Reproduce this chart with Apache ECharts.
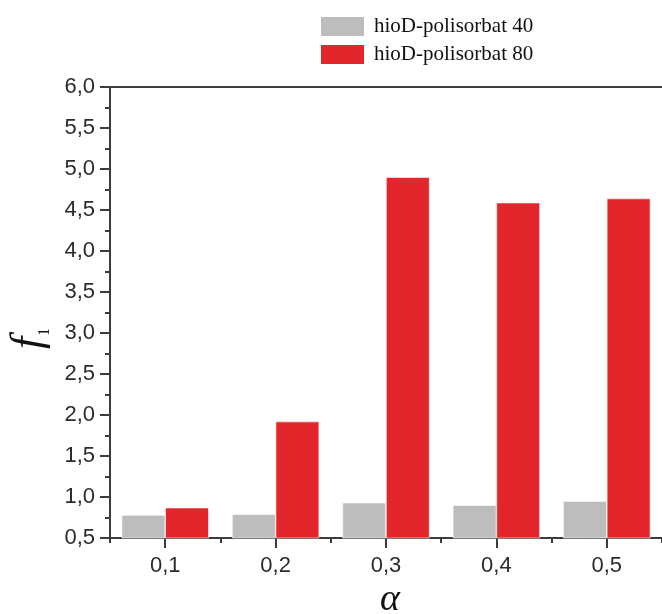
<!DOCTYPE html>
<html>
<head>
<meta charset="utf-8">
<script src="https://cdn.jsdelivr.net/npm/echarts@6/dist/echarts.min.js"></script>
<style>
  html, body { margin: 0; padding: 0; background: #fff; }
  #chart { width: 662px; height: 614px; }
</style>
</head>
<body>
<div id="chart"></div>
<script>
// α values on the horizontal axis
const categories = ['0,1', '0,2', '0,3', '0,4', '0,5'];
// f1 for each formulation
const seriesNames = ['hioD-polisorbat 40', 'hioD-polisorbat 80'];
const polisorbat40 = [0.78, 0.79, 0.93, 0.90, 0.95];
const polisorbat80 = [0.87, 1.92, 4.90, 4.59, 4.64];
// vertical axis range and step
const yMin = 0.5;
const yMax = 6.0;
const yStep = 0.5;

const axisColor = '#3c3c3c';
const labelColor = '#2b2b2b';
const labelFont = '"Liberation Sans", Arial, sans-serif';
const serifFont = '"Liberation Serif", "Times New Roman", serif';

const chart = echarts.init(document.getElementById('chart'), null, { renderer: 'canvas' });

chart.setOption({
  animation: false,
  backgroundColor: '#fff',
  grid: { left: 110, top: 87, width: 556, height: 451, containLabel: false },
  legend: {
    orient: 'vertical',
    left: 314,
    top: 10,
    itemWidth: 45,
    itemHeight: 21,
    itemGap: 5,
    icon: 'rect',
    data: seriesNames,
    textStyle: {
      fontFamily: serifFont,
      fontSize: 21,
      color: '#111',
      padding: [0, 0, 0, 4]
    }
  },
  xAxis: [
    {
      type: 'category',
      data: categories,
      position: 'bottom',
      axisLine: { show: true, lineStyle: { color: axisColor, width: 2 } },
      axisTick: { show: true, alignWithLabel: true, length: 10, lineStyle: { color: axisColor, width: 2 } },
      axisLabel: { margin: 17, fontFamily: labelFont, fontSize: 22, color: labelColor },
      splitLine: { show: false }
    },
    {
      // short ticks on the category boundaries
      type: 'category',
      data: categories,
      position: 'bottom',
      axisLine: { show: false },
      axisTick: { show: true, length: 5, lineStyle: { color: axisColor, width: 2 } },
      axisLabel: { show: false },
      splitLine: { show: false }
    },
    {
      // top frame line
      type: 'category',
      data: categories,
      position: 'top',
      axisLine: { show: true, lineStyle: { color: axisColor, width: 2 } },
      axisTick: { show: false },
      axisLabel: { show: false },
      splitLine: { show: false }
    }
  ],
  yAxis: {
    type: 'value',
    min: yMin,
    max: yMax,
    interval: yStep,
    axisLine: { show: true, lineStyle: { color: axisColor, width: 2 } },
    axisTick: { show: true, length: 10, lineStyle: { color: axisColor, width: 2 } },
    minorTick: { show: true, splitNumber: 2, length: 5, lineStyle: { color: axisColor, width: 2 } },
    axisLabel: {
      margin: 15,
      fontFamily: labelFont,
      fontSize: 22,
      color: labelColor,
      formatter: v => v.toFixed(1).replace('.', ',')
    },
    splitLine: { show: false }
  },
  series: [
    {
      name: seriesNames[0],
      type: 'bar',
      data: polisorbat40,
      barGap: '0%',
      barCategoryGap: '21%',
      itemStyle: { color: '#bdbdbd', borderColor: '#ffffff', borderWidth: 0.6 }
    },
    {
      name: seriesNames[1],
      type: 'bar',
      data: polisorbat80,
      barGap: '0%',
      barCategoryGap: '21%',
      itemStyle: { color: '#e3262b', borderColor: '#ffffff', borderWidth: 0.6 }
    }
  ],
  graphic: [
    {
      // vertical axis title: italic f ...
      type: 'text',
      x: 29,
      y: 343,
      rotation: Math.PI / 2,
      style: {
        text: 'f',
        align: 'center',
        verticalAlign: 'middle',
        fontFamily: serifFont,
        fontStyle: 'italic',
        fontSize: 44,
        fill: '#111'
      }
    },
    {
      // ... with subscript 1
      type: 'text',
      x: 45,
      y: 332,
      rotation: Math.PI / 2,
      style: {
        text: '1',
        align: 'center',
        verticalAlign: 'middle',
        fontFamily: serifFont,
        fontSize: 16,
        fill: '#111'
      }
    },
    {
      // horizontal axis title α
      type: 'text',
      x: 390,
      y: 619,
      style: {
        text: 'α',
        align: 'center',
        verticalAlign: 'bottom',
        fontFamily: serifFont,
        fontStyle: 'italic',
        fontSize: 38,
        fill: '#111'
      }
    }
  ]
});
</script>
</body>
</html>
